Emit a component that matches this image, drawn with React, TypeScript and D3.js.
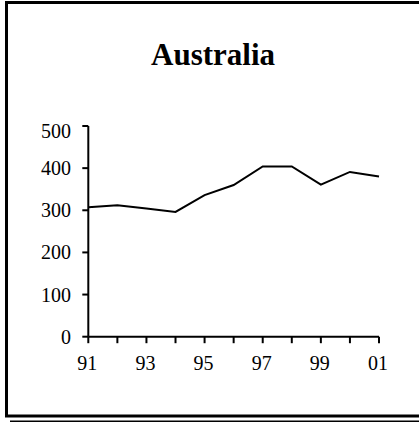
import React from "react";
import * as d3 from "d3";

const years = [1991, 1992, 1993, 1994, 1995, 1996, 1997, 1998, 1999, 2000, 2001];
const values = [307, 312, 304, 296, 336, 360, 404, 404, 361, 391, 380];
const yTicks = [0, 100, 200, 300, 400, 500];
const xLabelYears = [1991, 1993, 1995, 1997, 1999, 2001];
const title = "Australia";

export default function App() {
  const W = 419;
  const H = 422;
  const x = d3.scaleLinear().domain([1991, 2001]).range([88.3, 379]);
  const y = d3.scaleLinear().domain([0, 500]).range([336.7, 126]);
  const line = d3
    .line<number>()
    .x((_, i) => x(years[i]))
    .y((d) => y(d));
  const font = "'Liberation Serif', 'Times New Roman', serif";
  const x0 = x(1991);
  const y0 = y(0);
  return (
    <svg
      width={W}
      height={H}
      style={{ position: "absolute", left: 0, top: 0, background: "#fff" }}
    >
      <rect x={0} y={0} width={W} height={H} fill="#fff" />
      {/* frame */}
      <rect x={6.5} y={2.5} width={440} height={413.5} fill="none" stroke="#000" strokeWidth={3} />
      <line x1={10} x2={W} y1={421.5} y2={421.5} stroke="#000" strokeWidth={2} />
      {/* title */}
      <text
        x={213}
        y={65}
        textAnchor="middle"
        fontFamily={font}
        fontWeight="bold"
        fontSize={31}
      >
        {title}
      </text>
      {/* y axis */}
      <line x1={x0} x2={x0} y1={y(500)} y2={y0} stroke="#000" strokeWidth={2} />
      {yTicks.map((t) => (
        <g key={t}>
          <line x1={x0 - 6} x2={x0} y1={y(t)} y2={y(t)} stroke="#000" strokeWidth={2} />
          <text
            x={71}
            y={y(t) + (t === 500 ? 5 : 0)}
            textAnchor="end"
            dominantBaseline="central"
            fontFamily={font}
            fontSize={20}
          >
            {t}
          </text>
        </g>
      ))}
      {/* x axis */}
      <line x1={x0} x2={x(2001)} y1={y0} y2={y0} stroke="#000" strokeWidth={2} />
      {years.map((yr) => (
        <line key={yr} x1={x(yr)} x2={x(yr)} y1={y0} y2={y0 + 6.5} stroke="#000" strokeWidth={2} />
      ))}
      {xLabelYears.map((yr) => (
        <text
          key={yr}
          x={x(yr) - 1}
          y={369.5}
          textAnchor="middle"
          fontFamily={font}
          fontSize={20}
        >
          {String(yr % 100).padStart(2, "0")}
        </text>
      ))}
      {/* series */}
      <path d={line(values) || ""} fill="none" stroke="#000" strokeWidth={2} strokeLinejoin="miter" />
    </svg>
  );
}
